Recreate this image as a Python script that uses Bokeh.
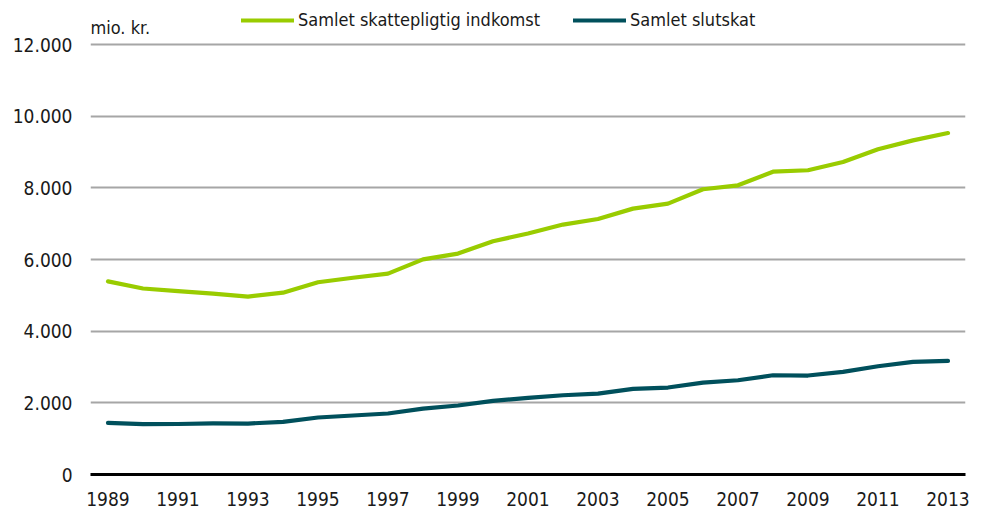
from bokeh.plotting import figure
from bokeh.models import (ColumnDataSource, FixedTicker, Legend, LegendItem,
                          Label, Range1d)
from bokeh.embed import file_html
from bokeh.resources import INLINE

years = list(range(1989, 2014))
skattepligtig = [5390, 5190, 5120, 5050, 4965, 5075, 5365, 5490, 5605, 6005,
                 6165, 6510, 6725, 6975, 7130, 7420, 7560, 7960, 8070, 8450,
                 8490, 8720, 9075, 9325, 9530]
slutskat = [1440, 1405, 1410, 1425, 1422, 1468, 1590, 1646, 1702, 1840,
            1925, 2053, 2137, 2212, 2259, 2388, 2427, 2566, 2630, 2770,
            2762, 2862, 3021, 3141, 3169]
y_ticks = [0, 2000, 4000, 6000, 8000, 10000, 12000]
y_tick_labels = ["0", "2.000", "4.000", "6.000", "8.000", "10.000", "12.000"]
x_ticks = list(range(1989, 2014, 2))
series_names = ["Samlet skattepligtig indkomst", "Samlet slutskat"]
unit_label = "mio. kr."

GREEN = "#99cc00"
TEAL = "#00505c"
FONT = "DejaVu Sans Condensed"

FRAME_H = 474          # frame height in px (top of figure to x axis)
AXIS_H = 430           # px between 0 and 12000
y_top = 12000 * FRAME_H / AXIS_H

src = ColumnDataSource(dict(year=years, a=skattepligtig, b=slutskat))

p = figure(width=975, height=513, output_backend="svg", toolbar_location=None,
           x_range=Range1d(1988.5, 2013.5), y_range=Range1d(0, y_top),
           min_border_left=90, min_border_right=10, min_border_top=0,
           min_border_bottom=39)
p.outline_line_color = None
p.background_fill_color = "white"
p.border_fill_color = "white"

p.xgrid.grid_line_color = None
p.ygrid.grid_line_color = "#a6a6a6"
p.ygrid.grid_line_width = 1.8
p.ygrid.ticker = FixedTicker(ticks=y_ticks[1:])

p.yaxis.ticker = FixedTicker(ticks=y_ticks)
p.yaxis.major_label_overrides = {t: l for t, l in zip(y_ticks, y_tick_labels)}
p.yaxis.axis_line_color = None
p.yaxis.major_tick_line_color = None
p.yaxis.minor_tick_line_color = None
p.yaxis.major_tick_out = 0
p.yaxis.major_label_standoff = 18
p.yaxis.major_label_text_font = FONT
p.yaxis.major_label_text_font_size = "19px"
p.yaxis.major_label_text_color = "#1a1a1a"

p.xaxis.ticker = FixedTicker(ticks=x_ticks)
p.xaxis.axis_line_color = "black"
p.xaxis.axis_line_width = 3
p.xaxis.major_tick_line_color = None
p.xaxis.minor_tick_line_color = None
p.xaxis.major_tick_out = 0
p.xaxis.major_label_standoff = 17
p.xaxis.major_label_text_font = FONT
p.xaxis.major_label_text_font_size = "19px"
p.xaxis.major_label_text_color = "#1a1a1a"

r1 = p.line("year", "a", source=src, line_color=GREEN, line_width=4.2,
            line_join="round", line_cap="round")
r2 = p.line("year", "b", source=src, line_color=TEAL, line_width=4.2,
            line_join="round", line_cap="round")

for r, name, xloc in [(r1, series_names[0], 151), (r2, series_names[1], 483)]:
    lg = Legend(items=[LegendItem(label=name, renderers=[r])],
                location=(xloc, 444), orientation="horizontal",
                padding=0, margin=0, spacing=0, glyph_width=53,
                glyph_height=20, label_height=20, label_standoff=4,
                border_line_color=None, background_fill_alpha=0,
                label_text_font=FONT, label_text_font_size="18px",
                label_text_color="#1a1a1a")
    p.add_layout(lg, "center")

p.add_layout(Label(x=0, y=447, x_units="screen", y_units="screen",
                   text=unit_label, text_font=FONT, text_font_size="18px",
                   text_color="#1a1a1a", text_baseline="alphabetic"))

open("out.html", "w").write(file_html(p, INLINE))
